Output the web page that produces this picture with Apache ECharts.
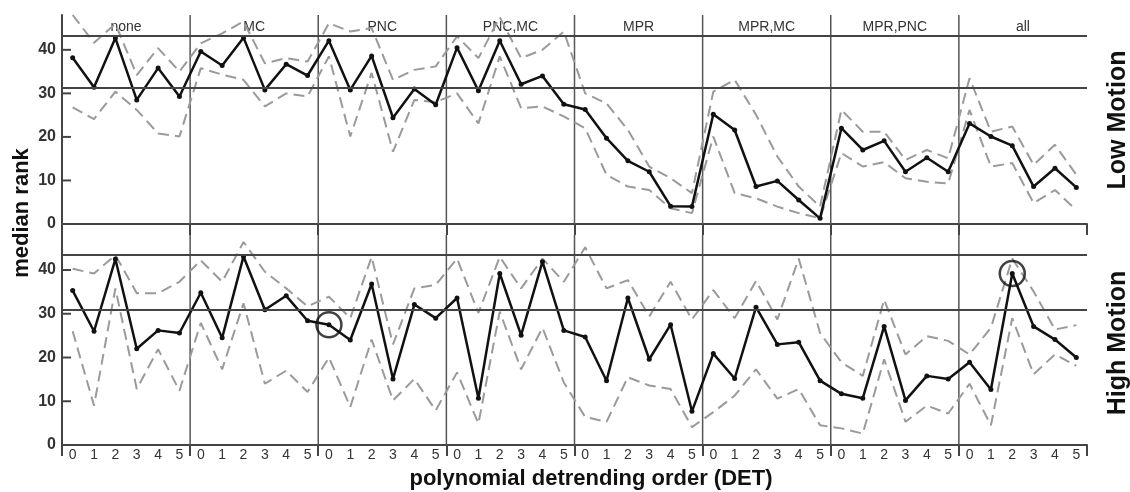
<!DOCTYPE html>
<html>
<head>
<meta charset="utf-8">
<script src="https://cdn.jsdelivr.net/npm/echarts@6/dist/echarts.min.js"></script>
<style>
html,body{margin:0;padding:0;background:#fff;}
#c{width:1130px;height:492px;}
</style>
</head>
<body>
<div id="c"></div>
<script>
// ---- data ----
var groups = ['none','MC','PNC','PNC,MC','MPR','MPR,MC','MPR,PNC','all'];
var orders = ['0','1','2','3','4','5'];

var lowMedian = [38.2,31.4,42.7,28.5,35.8,29.3, 39.6,36.4,42.8,30.8,36.7,34.1, 42.1,30.8,38.6,24.4,31.0,27.4, 40.5,30.6,42.1,32.1,34.0,27.5, 26.3,19.7,14.5,12.0,4.1,4.0, 25.2,21.6,8.6,9.9,5.5,1.3, 22.0,17.0,19.1,12.0,15.2,12.0, 23.1,20.1,18.0,8.6,12.8,8.4];
var lowUpper = [48.0,41.6,46.0,34.2,40.4,35.0, 41.5,43.8,46.5,36.9,38.1,37.3, 46.1,44.2,45.0,33.1,35.4,36.2, 43.1,38.1,47.5,38.1,40.0,44.2, 30.0,27.7,21.6,13.2,10.5,7.1, 30.4,33.1,25.1,15.5,8.6,4.0, 26.2,21.2,21.2,14.7,17.0,15.1, 33.5,21.2,22.4,13.6,18.2,11.3];
var lowLower = [26.8,24.1,30.4,26.2,20.8,20.1, 35.8,34.3,33.1,27.0,30.0,29.3, 38.5,20.1,34.7,16.6,28.5,28.0, 30.0,23.1,38.5,26.6,27.0,24.7, 22.0,11.3,8.6,7.8,3.6,2.5, 20.1,7.1,5.9,4.0,2.5,1.3, 16.3,13.2,14.2,10.5,9.7,9.3, 26.2,13.2,14.0,4.8,7.8,3.2];

var highMedian = [35.3,26.0,42.5,22.0,26.2,25.6, 34.8,24.5,43.1,30.9,34.1,28.4, 27.5,24.0,36.8,15.1,32.1,29.0, 33.6,10.7,39.2,25.1,41.9,26.2, 24.7,14.7,33.6,19.6,27.5,7.7, 20.9,15.2,31.5,23.0,23.5,14.7, 11.7,10.7,27.1,10.2,15.8,15.1, 18.9,12.7,39.2,27.1,24.1,20.0];
var highUpper = [40.3,39.2,43.4,34.7,34.7,37.3, 42.2,37.3,46.4,39.6,35.8,31.7, 33.9,29.0,43.0,23.0,35.8,36.6, 42.6,30.2,43.0,35.8,42.6,37.3, 45.2,35.8,37.7,29.4,37.3,28.7, 35.4,29.0,37.5,28.7,42.6,25.6, 18.9,15.8,33.2,20.7,24.9,23.8, 20.7,26.8,42.6,35.1,26.4,27.4];
var highLower = [26.0,9.0,35.8,12.8,21.9,12.4, 27.9,17.3,32.4,14.0,17.0,12.1, 20.0,8.7,24.1,10.2,15.1,7.9, 16.6,4.9,30.5,17.3,26.8,14.3, 6.4,5.3,15.5,13.6,12.8,4.1, 7.5,11.3,17.3,10.6,12.8,4.5, 3.8,2.6,19.6,5.3,9.0,7.2, 14.0,4.5,29.0,16.2,20.7,18.1];

var lowRefLines = [43.3, 31.3];
var highRefLines = [43.5, 30.9];
var highlighted = [12, 44]; // circled points in the High Motion panel
var yTicks = [0, 10, 20, 30, 40];
var yMax = 48;

// ---- build ----
var cats = [];
groups.forEach(function(g){ orders.forEach(function(o){ cats.push(o); }); });
var xLeft = -0.5, xRight = cats.length - 0.5;
var separators = [];
for (var gi = 1; gi < groups.length; gi++) separators.push([gi * orders.length - 0.5, 0]);
var tickData = yTicks.map(function(v){ return [xLeft, v]; });

var FONT = 'Liberation Sans, Arial, sans-serif';
var AX = '#444';

function sepFn(idx){ return idx % 6 === 0; }

function xCat(g, showLabels){
  return {
    type:'category', gridIndex:g, data:cats, boundaryGap:true,
    axisLine:{show:true, onZero:false, lineStyle:{color:AX, width:2}},
    axisTick:{show:true, interval:sepFn, length:11, lineStyle:{color:AX, width:2}},
    axisLabel:{show:showLabels, interval:0, margin:3, fontSize:14, color:'#333', fontFamily:FONT},
    splitLine:{show:false}
  };
}
function xHidden(g){
  return {type:'value', gridIndex:g, min:xLeft, max:xRight, show:false,
    axisLine:{onZero:false}, splitLine:{show:false}};
}
function yVal(g){
  return {
    type:'value', gridIndex:g, min:0, max:yMax, interval:10,
    axisLine:{show:true, onZero:false, lineStyle:{color:AX, width:2}},
    axisTick:{show:false},
    axisLabel:{margin:6, fontSize:16, fontWeight:'bold', color:'#333', fontFamily:FONT, showMaxLabel:false,
      formatter:function(v){ return yTicks.indexOf(v) >= 0 ? String(v) : ''; }},
    splitLine:{show:false}
  };
}
function band(data, xi, yi){
  return {type:'line', xAxisIndex:xi, yAxisIndex:yi, data:data, symbol:'none', silent:true,
    lineStyle:{color:'#9a9a9a', width:2, type:[11,6]}, z:2};
}
function median(data, xi, yi, refs){
  return {type:'line', xAxisIndex:xi, yAxisIndex:yi, data:data, symbol:'circle', symbolSize:5,
    itemStyle:{color:'#111'}, lineStyle:{color:'#111', width:2.5}, z:4, silent:true,
    markLine:{silent:true, symbol:'none', label:{show:false},
      lineStyle:{color:'#444', width:2, type:'solid'},
      data: refs.map(function(v){ return {yAxis:v}; })}};
}
function sepSeries(xi, yi){
  return {type:'custom', xAxisIndex:xi, yAxisIndex:yi, data:separators, silent:true, z:1,
    renderItem:function(params, api){
      var x = api.value(0);
      var p0 = api.coord([x, 0]);
      var p1 = api.coord([x, yMax]);
      return {type:'line', shape:{x1:p0[0], y1:p0[1], x2:p1[0], y2:p1[1]},
        style:{stroke:'#555', lineWidth:1.5}};
    }};
}
function tickSeries(xi, yi){
  return {type:'custom', xAxisIndex:xi, yAxisIndex:yi, data:tickData, silent:true, z:3,
    renderItem:function(params, api){
      var p = api.coord([api.value(0), api.value(1)]);
      return {type:'line', shape:{x1:p[0], y1:p[1], x2:p[0] + 9, y2:p[1]},
        style:{stroke:AX, lineWidth:2}};
    }};
}

var chart = echarts.init(document.getElementById('c'));
chart.setOption({
  backgroundColor:'#fff',
  animation:false,
  textStyle:{fontFamily:FONT},
  grid:[
    {left:62, right:43, top:15, height:209},
    {left:62, right:43, top:235, height:210}
  ],
  xAxis:[
    xCat(0, false),
    xCat(1, true),
    {type:'category', gridIndex:0, position:'top', data:groups, boundaryGap:true,
      axisLine:{show:false, onZero:false}, axisTick:{show:false}, splitLine:{show:false},
      axisLabel:{inside:true, interval:0, margin:5, fontSize:14, color:'#333', fontFamily:FONT}},
    xHidden(0),
    xHidden(1)
  ],
  yAxis:[ yVal(0), yVal(1) ],
  series:[
    sepSeries(3,0), sepSeries(4,1), tickSeries(3,0), tickSeries(4,1),
    band(lowUpper,0,0), band(lowLower,0,0), median(lowMedian,0,0,lowRefLines),
    band(highUpper,1,1), band(highLower,1,1), median(highMedian,1,1,highRefLines),
    {type:'scatter', xAxisIndex:1, yAxisIndex:1, symbol:'circle', symbolSize:25, z:5, silent:true,
      itemStyle:{color:'rgba(0,0,0,0)', borderColor:'#111', borderWidth:2.5},
      data: highlighted.map(function(i){ return [i, highMedian[i]]; })}
  ],
  graphic:[
    {type:'text', x:22, y:213, rotation:Math.PI/2,
      style:{text:'median rank', fontSize:22, fontWeight:'bold', fill:'#111', fontFamily:FONT, textAlign:'center', textVerticalAlign:'middle'}},
    {type:'text', x:1118, y:120, rotation:Math.PI/2,
      style:{text:'Low Motion', fontSize:25, fontWeight:'bold', fill:'#111', fontFamily:FONT, textAlign:'center', textVerticalAlign:'middle'}},
    {type:'text', x:1118, y:343, rotation:Math.PI/2,
      style:{text:'High Motion', fontSize:25, fontWeight:'bold', fill:'#111', fontFamily:FONT, textAlign:'center', textVerticalAlign:'middle'}},
    {type:'text', x:591, y:479,
      style:{text:'polynomial detrending order (DET)', fontSize:22, fontWeight:'bold', fill:'#111', fontFamily:FONT, textAlign:'center', textVerticalAlign:'middle'}}
  ]
});
</script>
</body>
</html>
